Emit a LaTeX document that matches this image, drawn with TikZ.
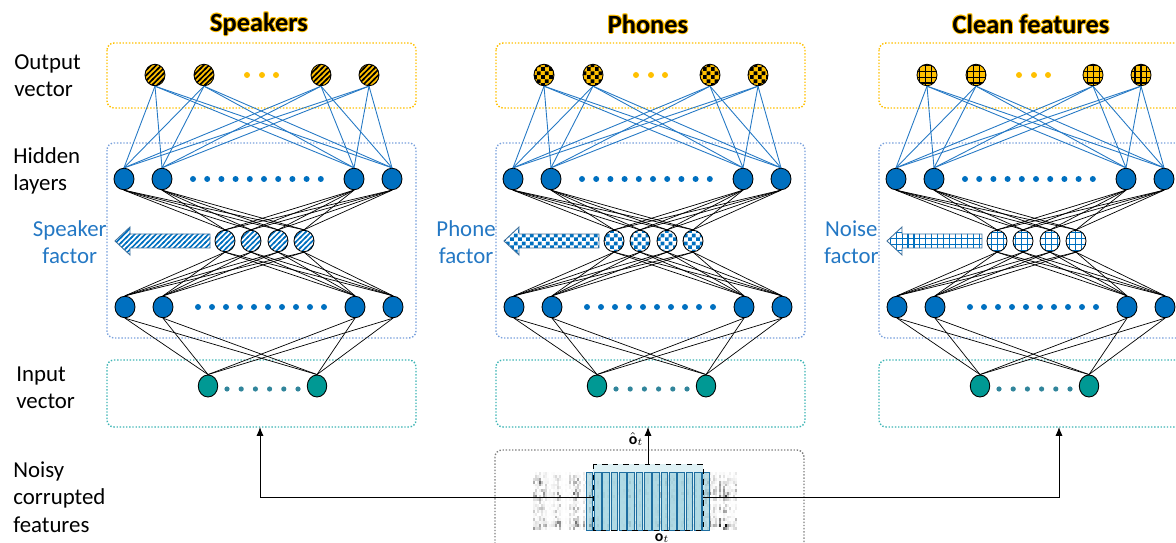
\documentclass[tikz,border=0pt]{standalone}
\usepackage{fontspec}
\setmainfont{Carlito}
\usetikzlibrary{shapes.geometric,arrows.meta,patterns}

\definecolor{gold}{RGB}{255,192,0}
\definecolor{hidblue}{RGB}{0,112,192}
\definecolor{linkblue}{RGB}{36,120,196}
\definecolor{inteal}{RGB}{0,153,148}
\definecolor{dotteal}{RGB}{49,133,155}
\definecolor{hidbox}{RGB}{120,160,220}
\definecolor{inbox}{RGB}{60,180,180}
\definecolor{edgeblue}{RGB}{65,113,156}
\definecolor{framefill}{RGB}{140,200,215}
\definecolor{frameedge}{RGB}{30,110,160}
\definecolor{winfill}{RGB}{215,238,243}

% fill patterns of the three factors
\pgfdeclarepatternformonly{spk lines}{\pgfqpoint{-1pt}{-1pt}}{\pgfqpoint{4pt}{4pt}}{\pgfqpoint{3pt}{3pt}}%
{\pgfsetlinewidth{0.9pt}\pgfpathmoveto{\pgfqpoint{-0.5pt}{-0.5pt}}\pgfpathlineto{\pgfqpoint{3.5pt}{3.5pt}}\pgfusepath{stroke}}
\pgfdeclarepatternformonly{phn checks}{\pgfqpoint{0pt}{0pt}}{\pgfqpoint{4.4pt}{4.4pt}}{\pgfqpoint{4.4pt}{4.4pt}}%
{\pgfpathrectangle{\pgfqpoint{0pt}{0pt}}{\pgfqpoint{2.2pt}{2.2pt}}\pgfpathrectangle{\pgfqpoint{2.2pt}{2.2pt}}{\pgfqpoint{2.2pt}{2.2pt}}\pgfusepath{fill}}
\pgfdeclarepatternformonly{cln grid}{\pgfqpoint{-1pt}{-1pt}}{\pgfqpoint{4.4pt}{4.4pt}}{\pgfqpoint{3.4pt}{3.4pt}}%
{\pgfsetlinewidth{0.6pt}\pgfpathmoveto{\pgfqpoint{0pt}{-0.5pt}}\pgfpathlineto{\pgfqpoint{0pt}{3.9pt}}\pgfpathmoveto{\pgfqpoint{-0.5pt}{0pt}}\pgfpathlineto{\pgfqpoint{3.9pt}{0pt}}\pgfusepath{stroke}}

\begin{document}
\begin{tikzpicture}[
    x=0.02cm, y=-0.02cm,
    unit/.style={ellipse, draw, line width=0.5pt, inner sep=0pt, minimum width=0.4cm, minimum height=0.43cm},
    outunit/.style={unit, preaction={fill=gold}, pattern color=black},
    hidunit/.style={unit, fill=hidblue},
    inunit/.style={unit, fill=inteal, minimum width=0.39cm, minimum height=0.44cm},
    neckunit/.style={unit, preaction={fill=white}, pattern color=hidblue},
    blink/.style={linkblue, line width=0.5pt},
    klink/.style={black, line width=0.4pt},
    layerbox/.style={densely dotted, line width=0.8pt, rounded corners=4pt},
    label/.style={font=\fontsize{13}{15.5}\selectfont, align=left, anchor=west, inner sep=0pt},
    title/.style={font=\fontsize{15}{18}\selectfont\bfseries, inner sep=0pt},
    factor/.style={font=\fontsize{13}{15.5}\selectfont, text=linkblue, align=center, anchor=east, inner sep=0pt},
    arr/.style={-{Latex[length=5pt,width=4pt]}, line width=0.5pt}
]

\clip (0,0) rectangle (1176,543);

% Row labels
\node[label] (outlab) at (14,76) {Output\\vector};
\node[label] (hidlab) at (13,171) {Hidden\\layers};
\node[label] (inlab) at (16,388) {Input\\vector};
\node[label] (noislab) at (13,497) {Noisy\\corrupted\\features};

% The three networks
\foreach \n/\o/\t/\pat/\fa in {1/0/Speakers/spk lines/Speaker, 2/389/Phones/phn checks/Phone, 3/772/Clean features/cln grid/Noise}{
\begin{scope}[shift={(\o,0)}]
    \draw[layerbox, gold] (107,43) rectangle (416,108);
    \draw[layerbox, hidbox] (107,143) rectangle (416,338);
    \draw[layerbox, inbox] (107,360) rectangle (416,427);

    % title with glow
    \foreach \a in {0,45,...,315}
        \node[title, text=gold] at ([shift={(\a:0.6pt)}]259,24) {\t};
    \node[title] (title\n) at (259,24) {\t};

    % units
    \foreach \x [count=\k] in {155,204,321,369}
        \node[outunit, pattern=\pat] (o\k) at (\x,75) {};
    \foreach \x in {247,262,276} \fill[gold] (\x,75) circle (3);
    \foreach \x [count=\k] in {124,162,354,392} {
        \node[hidunit] (h\k) at (\x,179) {};
        \node[hidunit] (g\k) at (\x+1,307) {};
    }
    \foreach \k in {0,...,9} {
        \fill[hidblue] (193+14.2*\k,179) circle (3);
        \fill[hidblue] (198+14*\k,307) circle (3);
    }
    \foreach \x [count=\k] in {225,251,278,304}
        \node[neckunit, pattern=\pat] (b\k) at (\x,241) {};
    \node[inunit] (i1) at (208,386) {};
    \node[inunit] (i2) at (317,386) {};
    \foreach \k in {0,...,5} \fill[dotteal] (227+14.2*\k,389) circle (2.6);

    % connections
    \foreach \a in {1,...,4} \foreach \b in {1,...,4} {
        \draw[blink] (o\a.south) -- (h\b.north);
        \draw[klink] (h\a.south) -- (b\b.north);
        \draw[klink] (b\a.south) -- (g\b.north);
    }
    \foreach \a in {1,...,4} \foreach \b in {1,2}
        \draw[klink] (g\a.south) -- (i\b.north);

    % factor arrow
    \draw[pattern=\pat, pattern color=hidblue, draw=edgeblue, line width=0.5pt]
        (115,241) -- (130,227) -- (130,234) -- (210,234) -- (210,248) -- (130,248) -- (130,255) -- cycle;
    \node[factor] (fac\n) at (107,242) {\fa\\factor};
\end{scope}
}

% Noisy features
\draw[layerbox, gray] (495,450) rectangle (804,560);
\pgfmathsetseed{5}
\foreach \i in {0,...,101} {
    \pgfmathsetmacro\colw{rnd*rnd}
    \foreach \j in {0,...,19} {
        \pgfmathsetmacro\r{rnd}
        \pgfmathsetmacro\op{min(1,1.6*\colw*\r*\r*{0.2,0.4,0.7,0.9,0.6,0.4,0.8,1,0.9,0.5,0.3,0.4,0.6,0.4,0.3,0.4,0.6,0.9,1,0.6}[\j])}
        \fill[black, opacity=\op] (533+2*\i,472+2.9*\j) rectangle ++(2,2.9);
    }
}

% context window
\coordinate (wtop) at (648,464);
\coordinate (wleft) at (593,497);
\coordinate (wright) at (703,497);
\coordinate (in1) at (260,427);
\coordinate (in2) at (648,427);
\coordinate (in3) at (1059,427);
\fill[winfill, opacity=0.8] (593,464) rectangle (703,530);
\foreach \k in {0,...,14}
    \draw[frameedge, fill=framefill, fill opacity=0.55, line width=0.5pt] (586+8.33*\k,472) rectangle ++(6.8,58);
\draw[dashed, line width=0.5pt] (593,464) rectangle (703,530);

\draw[arr] (wtop) -- (in2);
\draw[arr] (wleft) -| (in1);
\draw[arr] (wright) -| (in3);
\node[font=\small] (ohat) at (636,439) {$\hat{\mathbf{o}}_t$};
\node[font=\small] (ot) at (662,538) {$\mathbf{o}_t$};

\end{tikzpicture}
\end{document}
